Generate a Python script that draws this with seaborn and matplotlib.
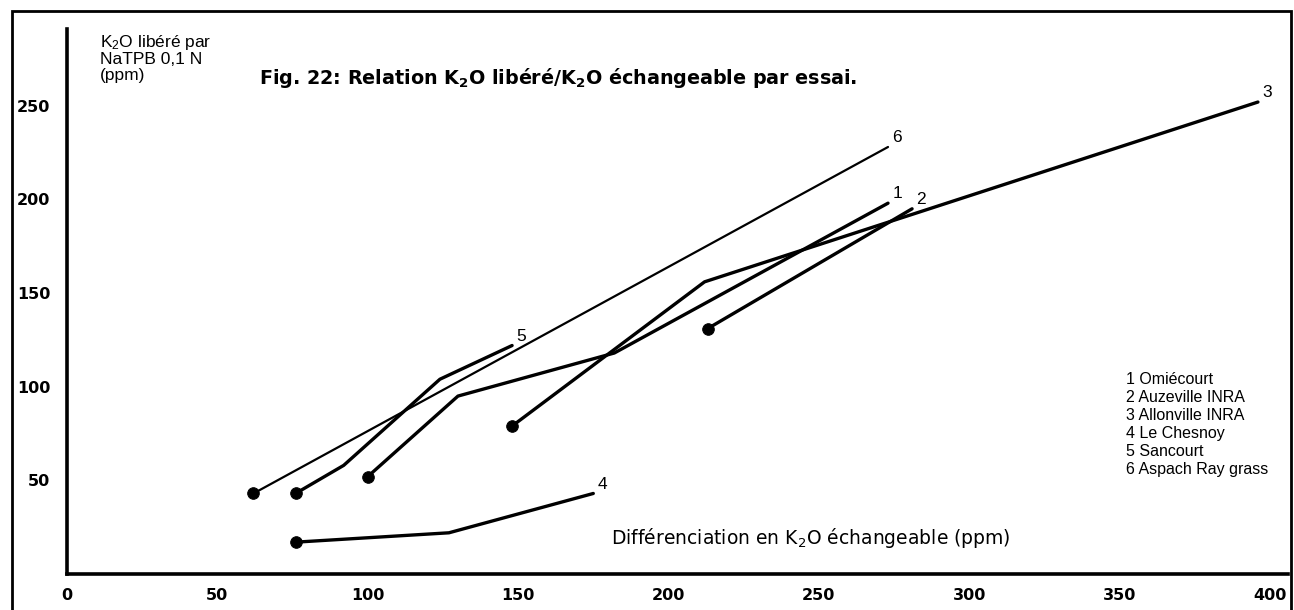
import matplotlib
matplotlib.use("Agg")
import matplotlib.pyplot as plt
import seaborn as sns
import pandas as pd
from matplotlib.patches import Rectangle

# ---- data ----
names = ["1 Omiécourt", "2 Auzeville INRA", "3 Allonville INRA", "4 Le Chesnoy",
         "5 Sancourt", "6 Aspach Ray grass"]
s1_x = [100, 130, 182, 273]
s1_y = [52, 95, 118, 198]
s2_x = [213, 281]
s2_y = [131, 195]
s3_x = [148, 212, 396]
s3_y = [79, 156, 252]
s4_x = [76, 127, 175]
s4_y = [17, 22, 43]
s5_x = [76, 92, 124, 148]
s5_y = [43, 58, 104, 122]
s6_x = [62, 273]
s6_y = [43, 228]
xticks = [0, 50, 100, 150, 200, 250, 300, 350, 400]
yticks = [50, 100, 150, 200, 250]

series = {"1": (s1_x, s1_y), "2": (s2_x, s2_y), "3": (s3_x, s3_y),
          "4": (s4_x, s4_y), "5": (s5_x, s5_y), "6": (s6_x, s6_y)}
rows = []
for k, (xs, ys) in series.items():
    for i, (a, b) in enumerate(zip(xs, ys)):
        rows.append({"s": k, "x": a, "y": b, "i": i})
df = pd.DataFrame(rows)

sns.set_theme(style="white")
plt.rcParams["font.family"] = ["Liberation Sans", "DejaVu Sans"]
plt.rcParams["mathtext.default"] = "regular"
plt.rcParams["text.color"] = "black"

W, H = 1294, 610
fig = plt.figure(figsize=(W / 100, H / 100), dpi=100)
ax = fig.add_axes([67 / W, (H - 574) / H, (1288 - 67) / W, (574 - 29) / H])

widths = {"1": 2.4, "2": 2.4, "3": 2.4, "4": 2.4, "5": 2.4, "6": 1.6}
for k in series:
    d = df[df.s == k]
    sns.lineplot(data=d, x="x", y="y", sort=False, color="black",
                 lw=widths[k], ax=ax, legend=False)
    sns.scatterplot(data=d[d.i == 0], x="x", y="y", color="black", s=70,
                    edgecolor="black", ax=ax, legend=False, zorder=5)
    xs, ys = series[k]
    ax.text(xs[-1] + 1.5, ys[-1] + 1, k, fontsize=12.5, ha="left", va="bottom",
            color="black")

ax.set_xlim(0, 406)
ax.set_ylim(0, 291)
ax.set_xticks(xticks)
ax.set_yticks(yticks)
ax.set_xlabel("")
ax.set_ylabel("")
for s in ["top", "right"]:
    ax.spines[s].set_visible(False)
for s in ["left", "bottom"]:
    ax.spines[s].set_linewidth(2.6)
    ax.spines[s].set_color("black")
ax.tick_params(axis="both", direction="in", length=8, width=1.8, colors="black",
               labelsize=11.5, labelcolor="black")
ax.set_facecolor("none")
for lab in ax.get_yticklabels() + ax.get_xticklabels():
    lab.set_fontweight("bold")
    lab.set_family("DejaVu Sans")
ax.tick_params(axis="y", pad=12)
ax.tick_params(axis="x", pad=10)

ax.text(11, 289, "K$_2$O libéré par\nNaTPB 0,1 N\n(ppm)", fontsize=12.5,
        va="top", ha="left", linespacing=1.05, color="black")
ax.text(64, 265, "Fig. 22: Relation K$_2$O libéré/K$_2$O échangeable par essai.",
        fontsize=13.8, fontweight="bold", va="center", ha="left",
        family="DejaVu Sans", color="black")
ax.text(181, 19, "Différenciation en K$_2$O échangeable (ppm)", fontsize=13.5,
        va="center", ha="left", family="DejaVu Sans", color="black")
leg_y = [104, 94, 84.5, 75, 65.5, 56]
for t, yy in zip(names, leg_y):
    ax.text(352, yy, t, fontsize=11.5, va="center", ha="left", color="black")

fig.add_artist(Rectangle((12 / W, -0.05), (1291 - 12) / W, 1.05 - 11 / H,
                         transform=fig.transFigure, fill=False, lw=2,
                         edgecolor="black"))
fig.savefig("out.png", dpi=100)
